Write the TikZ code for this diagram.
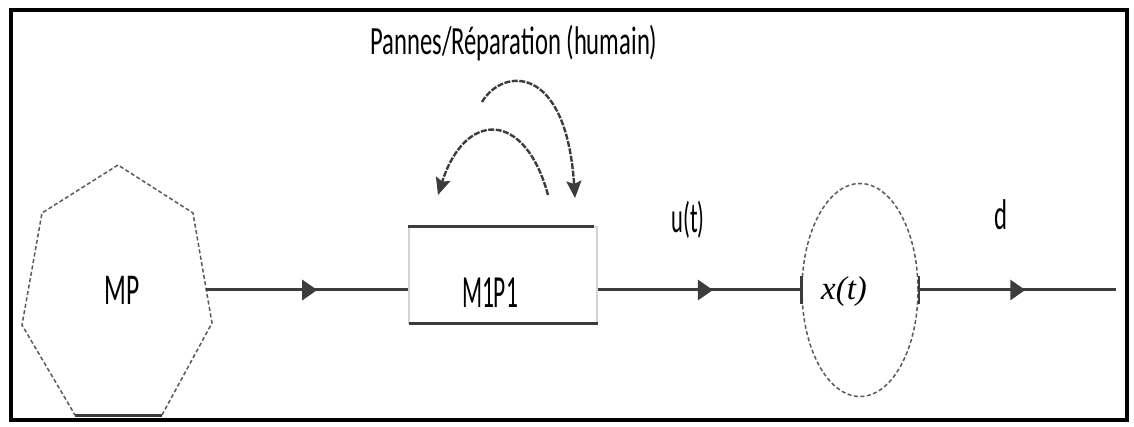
\documentclass[tikz,border=0pt]{standalone}
\usepackage{fontspec}
\usepackage{graphicx}
\setmainfont{Carlito}
\newfontfamily\timesit{Liberation Serif}
\usetikzlibrary{arrows.meta,decorations.markings,shapes.geometric}
\definecolor{ln}{HTML}{3C3C3C}
\definecolor{dsh}{HTML}{5A5A5A}
\definecolor{boxside}{HTML}{D4D4D4}
\newcommand\sqz[3]{\resizebox{#1pt}{\height}{\fontsize{#2}{#2}\selectfont #3}}
\tikzset{
  flow/.style={draw=ln, line width=3pt, postaction={decorate},
    decoration={markings, mark=at position #1 with {\arrow{Triangle[length=15pt,width=20pt]}}}},
  loopar/.style={draw=ln, line width=2.4pt, dash pattern=on 6pt off 1.5pt,
    -{Stealth[length=17pt,width=15pt,inset=3pt]}},
  dashedge/.style={draw=dsh, line width=1.5pt, dash pattern=on 4pt off 2.5pt},
  lbl/.style={inner sep=0pt, text=black},
}
\begin{document}
\begin{tikzpicture}[x=1pt,y=-1pt]
\useasboundingbox (0,0) rectangle (1134,427);
\fill[white] (0,0) rectangle (1134,427);
\draw[black, line width=4pt] (10.5,10) rectangle (1127,420);

% heptagon MP
\coordinate (h1) at (118,165);
\coordinate (h2) at (193,213);
\coordinate (h3) at (212,323);
\coordinate (h4) at (162,415);
\coordinate (h5) at (75,415);
\coordinate (h6) at (22,325);
\coordinate (h7) at (42,213);
\draw[dashedge] (h4) -- (h3) -- (h2) -- (h1) -- (h7) -- (h6) -- (h5);
\draw[ln, line width=3pt] (h5) -- (h4);
\node[lbl] (mp) at (122,290) {\sqz{35}{44}{MP}};
\coordinate (mpout) at (206,290);

% box M1P1
\node[draw=boxside, line width=1.5pt, minimum width=188pt, minimum height=96pt, inner sep=0pt] (m) at (503,275) {};
\draw[ln, line width=3pt] (m.north west) -- ([xshift=-4pt]m.north east);
\draw[ln, line width=3pt] ([xshift=1pt]m.south west) -- (m.south east);
\node[lbl] (m1p1) at (490,293) {\sqz{56}{46}{M1P1}};

% title and loop arrows
\node[lbl] (title) at (514,43) {\sqz{287}{40}{Pannes/Réparation (humain)}};
\coordinate (a1s) at (548,195);
\coordinate (a1e) at (438,195);
\coordinate (a2s) at (482,102);
\coordinate (a2e) at (575,198);
\draw[loopar] (a1s) .. controls (525,110) and (465,110) .. (a1e);
\draw[loopar] (a2s) .. controls (502,68) and (566,62) .. (a2e);

% ellipse x(t)
\node[ellipse, dashedge, minimum width=116pt, minimum height=213pt, inner sep=0pt] (x) at (860,290) {};
\node[lbl] (xt) at (844,292) {\fontsize{33}{33}\selectfont\timesit\itshape x(t)};
\draw[ln, line width=2.5pt] ([yshift=-14pt]x.west) -- ([yshift=14pt]x.west);
\draw[ln, line width=2.5pt] ([yshift=-14pt]x.east) -- ([yshift=14pt]x.east);
\coordinate (dend) at (1116,290);

% labels
\node[lbl] (ut) at (688,220) {\sqz{33}{43}{u(t)}};
\node[lbl] (d) at (1001,215) {\sqz{13}{43}{d}};

% flows
\draw[flow=0.55] (mpout) -- (m.west |- mpout);
\draw[flow=0.566] (m.east |- x.west) -- (x.west);
\draw[flow=0.54] (x.east) -- (dend);
\end{tikzpicture}
\end{document}
